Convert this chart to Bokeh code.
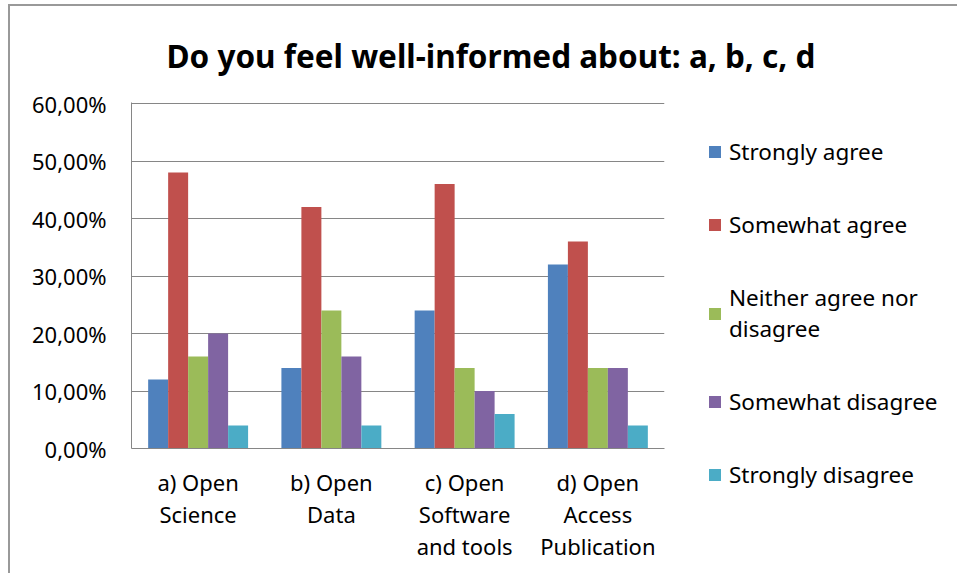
from bokeh.plotting import figure
from bokeh.models import (FactorRange, Range1d, FixedTicker, Legend, LegendItem,
                          ColumnDataSource)
from bokeh.transform import dodge
from bokeh.embed import file_html
from bokeh.resources import INLINE

# ---- data ----
categories = ["a) Open\nScience", "b) Open\nData",
              "c) Open\nSoftware\nand tools", "d) Open\nAccess\nPublication"]
series_names = ["Strongly agree", "Somewhat agree", "Neither agree nor\ndisagree",
                "Somewhat disagree", "Strongly disagree"]
strongly_agree = [12, 14, 24, 32]
somewhat_agree = [48, 42, 46, 36]
neither_agree_nor_disagree = [16, 24, 14, 14]
somewhat_disagree = [20, 16, 10, 14]
strongly_disagree = [4, 4, 6, 4]
y_ticks = [0, 10, 20, 30, 40, 50, 60]
y_tick_labels = ["0,00%", "10,00%", "20,00%", "30,00%", "40,00%", "50,00%", "60,00%"]
title_text = "Do you feel well-informed about: a, b, c, d"

colors = ["#4F81BD", "#C0504D", "#9BBB59", "#8064A2", "#4BACC6"]
FONT = "Noto Sans"

series_values = [strongly_agree, somewhat_agree, neither_agree_nor_disagree,
                 somewhat_disagree, strongly_disagree]
keys = ["s0", "s1", "s2", "s3", "s4"]
data = {"cat": categories}
for k, v in zip(keys, series_values):
    data[k] = v
source = ColumnDataSource(data)

p = figure(x_range=FactorRange(*categories), y_range=Range1d(0, 60.2),
           width=946, height=569, frame_width=533, frame_height=346,
           min_border_left=121, min_border_right=292, min_border_top=80,
           min_border_bottom=125, output_backend="svg", toolbar_location=None,
           styles={"margin-left": "8px", "margin-top": "4px",
                   "border-left": "2px solid #999999", "border-top": "2px solid #999999"})
p.x_range.range_padding = 0
p.x_range.factor_padding = 0

bar_w = 0.15
offsets = [-0.3, -0.15, 0.0, 0.15, 0.3]
renderers = []
for k, off, c in zip(keys, offsets, colors):
    r = p.vbar(x=dodge("cat", off, range=p.x_range), top=k, width=bar_w,
               source=source, fill_color=c, line_color=None)
    renderers.append(r)

# title
p.title.text = title_text
p.title.align = "left"
p.title.offset = 35
p.title.standoff = 51
p.title.text_font = FONT
p.title.text_font_style = "bold"
p.title.text_font_size = "31.5px"
p.title.text_color = "#000000"

# axes / grid
p.outline_line_color = None
p.xgrid.grid_line_color = None
p.ygrid.grid_line_color = "#868686"
p.ygrid.grid_line_width = 1
p.yaxis.ticker = FixedTicker(ticks=y_ticks)
p.yaxis.major_label_overrides = dict(zip(y_ticks, y_tick_labels))
for ax in (p.xaxis[0], p.yaxis[0]):
    ax.axis_line_color = "#868686"
    ax.major_tick_line_color = None
    ax.minor_tick_line_color = None
    ax.major_tick_out = 0
    ax.major_tick_in = 0
    ax.major_label_text_font = FONT
    ax.major_label_text_font_size = "22px"
    ax.major_label_text_color = "#000000"
p.yaxis.major_label_standoff = 25
p.xaxis.major_label_standoff = 18
p.xaxis.major_label_text_line_height = 1.08

# legend (right side panel)
legend = Legend(items=[LegendItem(label=l, renderers=[r]) for l, r in zip(series_names, renderers)],
                location=(43, -42), orientation="vertical", spacing=42,
                padding=0, margin=0, glyph_width=15, glyph_height=15,
                label_height=31, label_standoff=7,
                label_text_font=FONT, label_text_font_size="22.5px",
                label_text_line_height=1.05,
                label_text_color="#000000",
                border_line_color=None, background_fill_alpha=0)
p.add_layout(legend, "right")

open("out.html", "w").write(file_html(p, INLINE))
